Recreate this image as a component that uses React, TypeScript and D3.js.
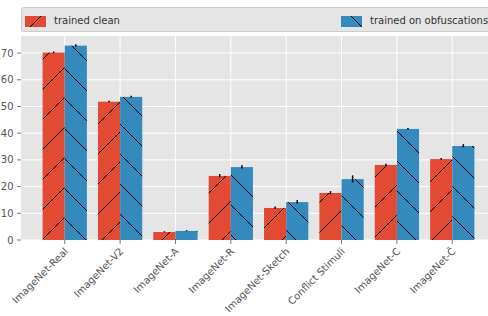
import { useEffect, useRef } from "react";
import * as d3 from "d3";

const categories = [
  "ImageNet-Real",
  "ImageNet-V2",
  "ImageNet-A",
  "ImageNet-R",
  "ImageNet-Sketch",
  "Conflict Stimuli",
  "ImageNet-C",
  "ImageNet-C\u0304",
];
const cleanValues = [70.2, 51.8, 3.0, 24.0, 12.0, 17.6, 28.1, 30.3];
const obfValues = [72.8, 53.6, 3.4, 27.3, 14.2, 22.8, 41.6, 35.2];
const cleanErr = [0.2, 0.2, 0.1, 0.5, 0.4, 0.5, 0.3, 0.2];
const obfErr = [0.3, 0.2, 0.1, 0.5, 0.6, 1.2, 0.2, 0.5];
const yTicks = [0, 10, 20, 30, 40, 50, 60, 70];
const seriesNames = ["trained clean", "trained on obfuscations"];

const RED = "#E24A33";
const BLUE = "#348ABD";

function App() {
  const ref = useRef<HTMLDivElement>(null);

  useEffect(() => {
    const container = d3.select(ref.current);
    container.selectAll("*").remove();

    const width = 488;
    const height = 316;
    const plot = { left: 21, right: 496, top: 36, bottom: 240 };

    const svg = container
      .append("svg")
      .attr("width", width)
      .attr("height", height)
      .style("position", "absolute")
      .style("left", "0px")
      .style("top", "0px")
      .style("font-family", "DejaVu Sans");

    const defs = svg.append("defs");
    const hatch = (id: string, color: string, forward: boolean, dy: number) => {
      const s = 30;
      const p = defs
        .append("pattern")
        .attr("id", id)
        .attr("patternUnits", "userSpaceOnUse")
        .attr("width", s)
        .attr("height", s)
        .attr("y", dy);
      p.append("rect").attr("width", s).attr("height", s).attr("fill", color);
      const segs = forward
        ? [[-2, s + 2, s + 2, -2], [-2, 2, 2, -2], [s - 2, s + 2, s + 2, s - 2]]
        : [[-2, -2, s + 2, s + 2], [-2, s - 2, 2, s + 2], [s - 2, -2, s + 2, 2]];
      segs.forEach(([x1, y1, x2, y2]) =>
        p.append("line")
          .attr("x1", x1).attr("y1", y1).attr("x2", x2).attr("y2", y2)
          .attr("stroke", "#000").attr("stroke-width", 1)
      );
    };
    hatch("hClean", RED, true, 12);
    hatch("hObf", BLUE, false, 4);

    const x = d3.scaleLinear().domain([-0.79, 7.79]).range([plot.left, plot.right]);
    const y = d3.scaleLinear().domain([0, 76.4]).range([plot.bottom, plot.top]);
    const barW = x(0.4) - x(0);

    svg.append("rect")
      .attr("x", plot.left).attr("y", plot.top)
      .attr("width", plot.right - plot.left).attr("height", plot.bottom - plot.top)
      .attr("fill", "#E5E5E5");

    svg.append("g")
      .selectAll("line.h")
      .data(yTicks)
      .join("line")
      .attr("x1", plot.left).attr("x2", plot.right)
      .attr("y1", (d) => y(d)).attr("y2", (d) => y(d))
      .attr("stroke", "#fff").attr("stroke-width", 1);

    svg.append("g")
      .selectAll("line.v")
      .data(categories)
      .join("line")
      .attr("x1", (_, i) => x(i)).attr("x2", (_, i) => x(i))
      .attr("y1", plot.top).attr("y2", plot.bottom)
      .attr("stroke", "#fff").attr("stroke-width", 1);

    const series = [
      { vals: cleanValues, err: cleanErr, fill: "url(#hClean)", off: -barW },
      { vals: obfValues, err: obfErr, fill: "url(#hObf)", off: 0 },
    ];
    series.forEach((s) => {
      svg.append("g")
        .selectAll("rect")
        .data(s.vals)
        .join("rect")
        .attr("x", (_, i) => x(i) + s.off)
        .attr("y", (d) => y(d))
        .attr("width", barW)
        .attr("height", (d) => y(0) - y(d))
        .attr("fill", s.fill);
      svg.append("g")
        .selectAll("line")
        .data(s.vals)
        .join("line")
        .attr("x1", (_, i) => x(i) + s.off + barW / 2)
        .attr("x2", (_, i) => x(i) + s.off + barW / 2)
        .attr("y1", (d, i) => y(d - s.err[i]))
        .attr("y2", (d, i) => y(d + s.err[i]) - 0.5)
        .attr("stroke", "#000").attr("stroke-width", 1.5);
    });

    // y axis
    const yAxis = svg.append("g");
    yTicks.forEach((t) => {
      yAxis.append("line")
        .attr("x1", plot.left - 4).attr("x2", plot.left)
        .attr("y1", y(t)).attr("y2", y(t))
        .attr("stroke", "#555").attr("stroke-width", 0.8);
      yAxis.append("text")
        .attr("x", plot.left - 7.5).attr("y", y(t))
        .attr("dy", "0.35em")
        .attr("text-anchor", "end")
        .attr("fill", "#555")
        .style("font-size", "10px")
        .text(t);
    });

    // x axis
    const xAxis = svg.append("g");
    categories.forEach((c, i) => {
      xAxis.append("line")
        .attr("x1", x(i)).attr("x2", x(i))
        .attr("y1", plot.bottom).attr("y2", plot.bottom + 4)
        .attr("stroke", "#555").attr("stroke-width", 0.8);
      xAxis.append("text")
        .attr("transform", `translate(${x(i) + 4},${plot.bottom + 12}) rotate(-45)`)
        .attr("text-anchor", "end")
        .attr("fill", "#555")
        .style("font-size", "10px")
        .text(c);
    });

    // legend
    const leg = svg.append("g");
    leg.append("rect")
      .attr("x", 21.5).attr("y", 7.5)
      .attr("width", 490).attr("height", 24)
      .attr("rx", 2)
      .attr("fill", "#E5E5E5")
      .attr("stroke", "#CCCCCC").attr("stroke-width", 1);
    const legX = [25, 341];
    seriesNames.forEach((name, i) => {
      const px = legX[i];
      leg.append("rect")
        .attr("x", px).attr("y", 16).attr("width", 21).attr("height", 11)
        .attr("fill", i === 0 ? RED : BLUE);
      leg.append("line")
        .attr("x1", i === 0 ? px + 5 : px + 10).attr("y1", i === 0 ? 27 : 16)
        .attr("x2", i === 0 ? px + 16 : px + 21).attr("y2", i === 0 ? 16 : 27)
        .attr("stroke", "#000").attr("stroke-width", 1);
      leg.append("text")
        .attr("x", px + 29).attr("y", 23.5)
        .attr("fill", "#333")
        .style("font-size", "10px")
        .text(name);
    });
  }, []);

  return <div ref={ref} />;
}

export default App;
